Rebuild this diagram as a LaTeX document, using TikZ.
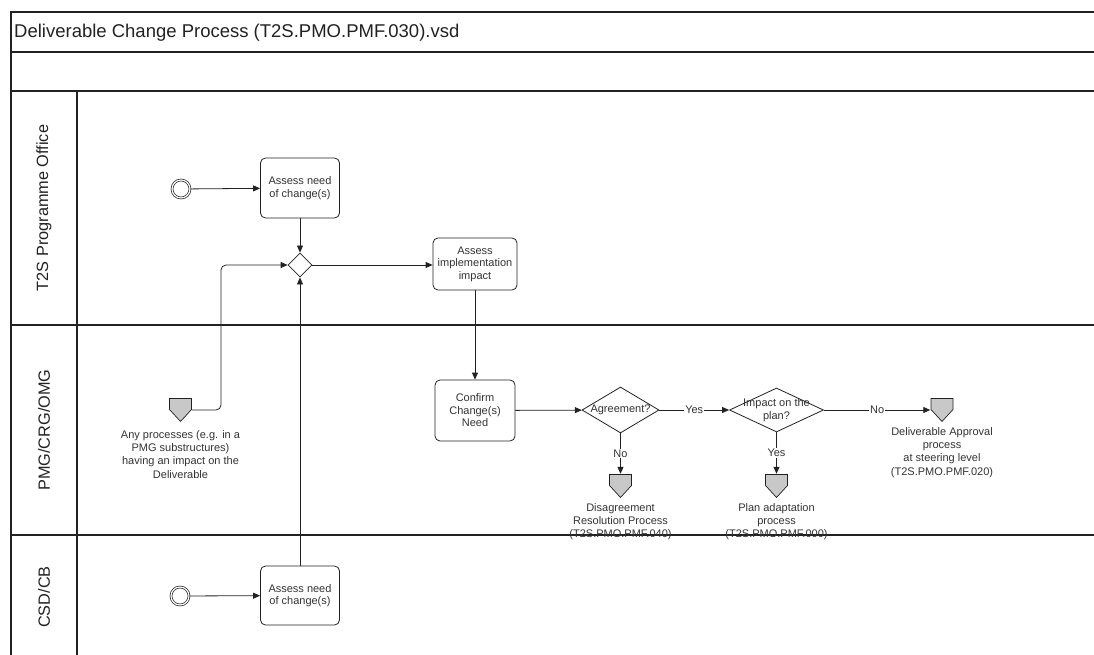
\documentclass[tikz,border=0pt]{standalone}
\usepackage{fontspec}
\setmainfont{Liberation Sans}
\usetikzlibrary{shapes.geometric,arrows.meta}
\definecolor{ln}{HTML}{222222}
\definecolor{tx}{HTML}{333333}
\definecolor{pg}{HTML}{C8C8C8}
\begin{document}
\begin{tikzpicture}[x=1pt,y=-1pt,
  frame/.style={draw=ln, line width=1.2pt},
  task/.style={draw=ln, rounded corners=5pt, line width=0.8pt, align=center,
    font=\fontsize{11}{12.5}\selectfont, text=tx, inner sep=0pt},
  gw/.style={draw=ln, shape=diamond, inner sep=0pt, line width=0.8pt},
  startev/.style={circle, draw=ln, double=white, double distance=1.2pt, line width=0.7pt,
    minimum size=18pt, inner sep=0pt},
  flow/.style={draw=ln, line width=0.8pt, -{Triangle[length=7pt,width=6pt]}},
  lbl/.style={font=\fontsize{11}{12.5}\selectfont, text=tx, fill=white, inner sep=1pt},
  lblc/.style={font=\fontsize{11}{12.5}\selectfont, text=tx, align=center, inner sep=0pt},
  note/.style={font=\fontsize{11}{13.4}\selectfont, text=tx, align=center, anchor=north, inner sep=0pt},
  lane/.style={rotate=90, font=\fontsize{16.3}{18}\selectfont, text=ln, inner sep=0pt},
  offp/.style={minimum width=23pt, minimum height=24pt, inner sep=0pt,
    path picture={\filldraw[draw=ln, fill=pg, line width=0.7pt]
      ([shift={(-11,-11.5)}]path picture bounding box.center) -- ++(22,0) -- ++(0,11)
      -- ++(-11,12) -- ++(-11,-12) -- cycle;}}
]
\useasboundingbox (0,0) rectangle (1094,655);
% frame
\draw[frame] (11,655) -- (11,12) -- (1094,12);
\draw[frame] (11,52) -- (1094,52);
\draw[frame] (11,91) -- (1094,91);
\draw[frame] (11,325) -- (1094,325);
\draw[frame] (11,535) -- (1094,535);
\draw[frame] (77,91) -- (77,655);
\node[anchor=base west, font=\fontsize{18.5}{20}\selectfont, text=ln, inner sep=0pt] (title) at (14,37.5)
  {Deliverable Change Process (T2S.PMO.PMF.030).vsd};
% lanes
\node[lane] (l1) at (44,208) {T2S Programme Office};
\node[lane] (l2) at (44,430) {PMG/CRG/OMG};
\node[lane] (l3) at (44,597) {CSD/CB};
% nodes
\node[startev] (s1) at (181,189) {};
\node[task, minimum width=79pt, minimum height=60pt] (a1) at (300,188) {Assess need\\of change(s)};
\node[gw, minimum width=24pt, minimum height=24pt] (g1) at (300,265) {};
\node[task, minimum width=84pt, minimum height=52pt] (a2) at (475,264) {Assess\\implementation\\impact};
\node[task, minimum width=80pt, minimum height=61pt] (c1) at (475,410.5) {Confirm\\Change(s)\\Need};
\node[gw, minimum width=77pt, minimum height=46pt, label={[lblc]center:Agreement?}] (d1) at (620.5,410) {};
\node[gw, minimum width=94pt, minimum height=44pt, label={[lblc]center:{Impact on the\\plan?}}] (d2) at (776.5,410) {};
\node[offp] (p0) at (180.5,410) {};
\node[offp] (p1) at (620.5,486) {};
\node[offp] (p2) at (776.5,486) {};
\node[offp] (p3) at (942,410) {};
\node[startev] (s3) at (180,596) {};
\node[task, minimum width=79pt, minimum height=59pt] (a3) at (300,595.5) {Assess need\\of change(s)};
\coordinate (bend) at (221,265);
% notes
\node[note] (n0) at (180.5,430) {Any processes (e.g. in a\\PMG substructures)\\having an impact on the\\Deliverable};
\node[note] (n1) at (620.5,503) {Disagreement\\Resolution Process\\(T2S.PMO.PMF.040)};
\node[note] (n2) at (776.5,503) {Plan adaptation\\process\\(T2S.PMO.PMF.000)};
\node[note] (n3) at (942,427) {Deliverable Approval\\process\\at steering level\\(T2S.PMO.PMF.020)};
% flows
\draw[flow] (s1) -- (a1);
\draw[flow] (a1) -- (g1);
\draw[flow, rounded corners=5pt] (p0.east) -| (bend) -- (g1.west);
\draw[flow] (a3) -- (g1);
\draw[flow] (g1) -- (g1 -| a2.west);
\draw[flow] (a2) -- (c1);
\draw[flow] (c1) -- (d1);
\draw[flow] (d1) -- node[lbl]{Yes} (d2);
\draw[flow] (d2) -- node[lbl]{No} (p3);
\draw[flow] (d1) -- node[lbl]{No} (p1);
\draw[flow] (d2) -- node[lbl]{Yes} (p2);
\draw[flow] (s3) -- (a3);
\end{tikzpicture}
\end{document}
